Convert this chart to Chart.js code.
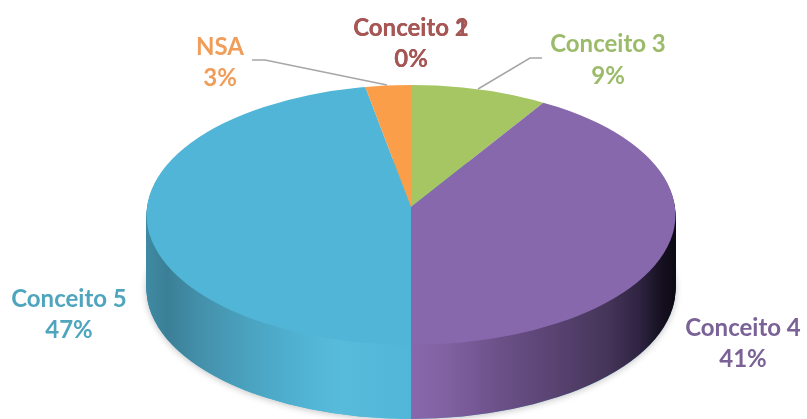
<!DOCTYPE html>
<html><head><meta charset="utf-8">
<style>html,body{margin:0;padding:0;background:#fff}canvas{display:block}</style>
<script src="https://cdn.jsdelivr.net/npm/chart.js@4/dist/chart.umd.min.js"></script>
</head><body><canvas id="c" width="807" height="419"></canvas>
<script>
const categories = ["Conceito 1","Conceito 2","Conceito 3","Conceito 4","Conceito 5","NSA"];
const values = [0,0,9,41,47,3];
const topColors = ["#4f81bd","#b05a58","#a5c663","#8868ac","#50b5d6","#fb9e4a"];
const textColors = ["#9a5a60","#a85654","#9bbb6a","#7a6296","#4fa5bd","#ef9d58"];
const labelPos = [[411,28,59],[411,28,59],[608,44,76],[743,328,359],[69,299,330],[220,47,78]];
const leaders = [[[252,60],[265,60],[387,85]],[[542,58],[530,58],[478,89]]];
const sideStops = {
  3:[[411,'#8868ac'],[450,'#7f60a0'],[500,'#6b5088'],[560,'#57426f'],[610,'#443458'],[640,'#2e2340'],[662,'#151020'],[675,'#0e0a14']],
  4:[[146,'#3f8aa3'],[167,'#3a7f96'],[200,'#4490aa'],[250,'#4aa3c0'],[310,'#52b5d6'],[340,'#57bbdc'],[411,'#52b6d8']]
};
const geo = {ex:411, ey:215, rx:264.5, ry:130, ax:411, ay:207, sx:244, sy:122, over:1.35, depth:74};

const pie3d = {
  id:'pie3d',
  beforeDatasetsDraw(chart){
    const ctx = chart.ctx, arcs = chart.getDatasetMeta(0).data;
    const a0 = arcs[0], R = a0.outerRadius, ax = a0.x, ay = a0.y;
    const kx = geo.sx*geo.over/R, ky = geo.sy*geo.over/R;
    const toChartX = x => ax + (x-geo.ax)/kx;
    const outline = dy => { ctx.beginPath(); ctx.ellipse(geo.ex,geo.ey+dy,geo.rx,geo.ry,0,0,Math.PI*2); };
    const pass = (dy, paint) => {
      ctx.save();
      outline(dy); ctx.clip();
      ctx.translate(geo.ax, geo.ay+dy);
      ctx.scale(kx, ky);
      ctx.translate(-ax,-ay);
      arcs.forEach(paint);
      ctx.restore();
    };
    const grads = {};
    Object.keys(sideStops).forEach(i=>{
      const s = sideStops[i], g = ctx.createLinearGradient(toChartX(s[0][0]),0,toChartX(s[s.length-1][0]),0);
      const span = s[s.length-1][0]-s[0][0];
      s.forEach(p=>g.addColorStop((p[0]-s[0][0])/span,p[1]));
      grads[i]=g;
    });
    const sidePaint = (arc,i) => {
      if(!grads[i]) return;
      const o = arc.options;
      arc.options = Object.assign({}, o, {backgroundColor:grads[i]});
      arc.draw(ctx);
      arc.options = o;
    };
    ctx.save();
    ctx.shadowColor='rgba(0,0,0,0.25)'; ctx.shadowBlur=7; ctx.shadowOffsetY=1;
    ctx.fillStyle='#52b6d8';
    outline(geo.depth); ctx.fill();
    ctx.restore();
    for(let d=geo.depth;d>=1;d--) pass(d,sidePaint);
    pass(0,a=>a.draw(ctx));
    return false;
  },
  afterDraw(chart){
    const ctx = chart.ctx;
    ctx.save();
    ctx.strokeStyle='#a6a6a6'; ctx.lineWidth=1.5;
    leaders.forEach(l=>{
      ctx.beginPath();
      l.forEach((p,i)=>i?ctx.lineTo(p[0],p[1]):ctx.moveTo(p[0],p[1]));
      ctx.stroke();
    });
    ctx.font='bold 24px Lato, "Open Sans", sans-serif';
    ctx.textAlign='center'; ctx.textBaseline='middle';
    categories.forEach((c,i)=>{
      const p = labelPos[i];
      ctx.fillStyle=textColors[i];
      ctx.fillText(c,p[0],p[1]);
      ctx.fillText(values[i]+'%',p[0],p[2]);
    });
    ctx.restore();
  }
};

new Chart(document.getElementById('c'),{
  type:'pie',
  data:{labels:categories,datasets:[{data:values,backgroundColor:topColors,borderWidth:0}]},
  options:{responsive:false,animation:false,rotation:0,
    plugins:{legend:{display:false},tooltip:{enabled:false}}},
  plugins:[pie3d]
});
</script></body></html>
